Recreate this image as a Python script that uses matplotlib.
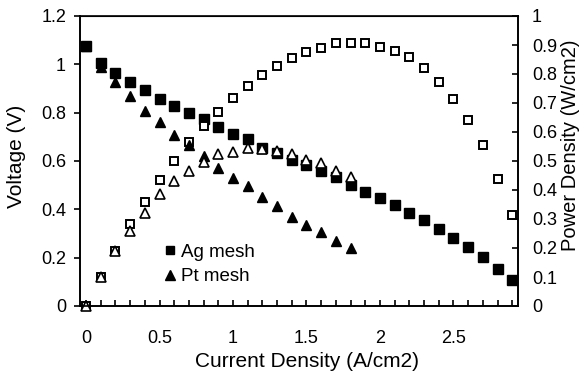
import matplotlib
matplotlib.use("Agg")
import matplotlib.pyplot as plt
from matplotlib.ticker import MultipleLocator, FuncFormatter
from matplotlib.lines import Line2D

plt.rcParams['font.family'] = ['Liberation Sans', 'DejaVu Sans']

# current density (A/cm2)
ag_current = [0.0, 0.1, 0.2, 0.3, 0.4, 0.5, 0.6, 0.7, 0.8, 0.9, 1.0, 1.1, 1.2, 1.3, 1.4,
              1.5, 1.6, 1.7, 1.8, 1.9, 2.0, 2.1, 2.2, 2.3, 2.4, 2.5, 2.6, 2.7, 2.8, 2.9]
pt_current = [0.0, 0.1, 0.2, 0.3, 0.4, 0.5, 0.6, 0.7, 0.8, 0.9, 1.0, 1.1, 1.2, 1.3, 1.4,
              1.5, 1.6, 1.7, 1.8]

# voltage (V)
ag_voltage = [1.076, 1.007, 0.966, 0.925, 0.892, 0.858, 0.826, 0.798, 0.773, 0.741, 0.713,
              0.689, 0.655, 0.634, 0.603, 0.585, 0.560, 0.533, 0.500, 0.471, 0.445, 0.416,
              0.386, 0.356, 0.318, 0.283, 0.245, 0.203, 0.155, 0.107]
pt_voltage = [1.076, 0.991, 0.925, 0.867, 0.808, 0.760, 0.709, 0.665, 0.620, 0.572, 0.531,
              0.496, 0.450, 0.414, 0.370, 0.334, 0.306, 0.269, 0.242]

# power density (W/cm2)
ag_power = [0.0, 0.099, 0.191, 0.283, 0.357, 0.434, 0.499, 0.567, 0.622, 0.670, 0.717, 0.758,
            0.797, 0.829, 0.854, 0.875, 0.889, 0.906, 0.906, 0.906, 0.894, 0.880, 0.860, 0.820,
            0.773, 0.714, 0.641, 0.556, 0.438, 0.314]
pt_power = [0.0, 0.099, 0.190, 0.260, 0.321, 0.386, 0.432, 0.467, 0.496, 0.524, 0.532, 0.544,
            0.541, 0.536, 0.524, 0.503, 0.492, 0.467, 0.444]

fig = plt.figure(figsize=(5.84, 3.75), dpi=100)
ax1 = fig.add_axes([80 / 584, 1 - 306 / 375, 438 / 584, 290 / 375])
ax2 = ax1.twinx()

ax1.set_xlim(-0.041, 2.939)
ax1.set_ylim(0, 1.2)
ax2.set_ylim(0, 1.0)

# series order like the excel chart: Ag V, Ag P, Pt V, Pt P (later ones on top)
ax2.plot(ag_current, ag_voltage, 's', color='black', ms=7, transform=ax1.transData, clip_on=False)
ax2.plot(ag_current, ag_power, 's', mfc='white', mec='black', ms=6.3, mew=1.4, clip_on=False)
ax2.plot(pt_current, pt_voltage, '^', color='black', ms=7.5, transform=ax1.transData, clip_on=False)
ax2.plot(pt_current, pt_power, '^', mfc='white', mec='black', ms=6.8, mew=1.2, clip_on=False)
ax2.set_xlim(-0.041, 2.939)
ax2.set_ylim(0, 1.0)

fmt = FuncFormatter(lambda v, p: f"{v:g}")
ax1.xaxis.set_major_locator(MultipleLocator(0.5))
ax1.xaxis.set_minor_locator(MultipleLocator(0.1))
ax1.xaxis.set_major_formatter(fmt)
ax1.yaxis.set_major_locator(MultipleLocator(0.2))
ax1.yaxis.set_major_formatter(fmt)
ax2.yaxis.set_major_locator(MultipleLocator(0.1))
ax2.yaxis.set_major_formatter(fmt)

ax1.tick_params(axis='x', which='both', direction='in', length=4, width=1.2, labelsize=13, pad=17)
ax1.tick_params(axis='y', direction='out', length=4, width=1.2, labelsize=13, pad=6)
ax2.tick_params(axis='y', direction='in', length=4, width=1.2, labelsize=13, pad=10)

for ax in (ax1, ax2):
    for s in ax.spines.values():
        s.set_linewidth(1.2)
ax2.spines['top'].set_linewidth(0.8)

ax1.set_xlabel("Current Density (A/cm2)", fontsize=15)
ax1.xaxis.set_label_coords(0.519, -0.158)
ax1.set_ylabel("Voltage (V)", fontsize=15)
ax1.yaxis.set_label_coords(-0.124, 0.517)
ax2.set_ylabel("Power Density (W/cm2)", fontsize=14.5, rotation=90)
ax2.yaxis.set_label_coords(1.098, 0.555)

handles = [Line2D([], [], marker='s', ls='', color='black', ms=6),
           Line2D([], [], marker='^', ls='', color='black', ms=6.5)]
ax2.legend(handles, ["Ag mesh", "Pt mesh"], loc='lower left', bbox_to_anchor=(0.175, 0.045),
           frameon=False, fontsize=13.5, handlelength=0.6, handletextpad=0.3, labelspacing=0.4,
           borderaxespad=0)

fig.savefig("out.png", dpi=100)
